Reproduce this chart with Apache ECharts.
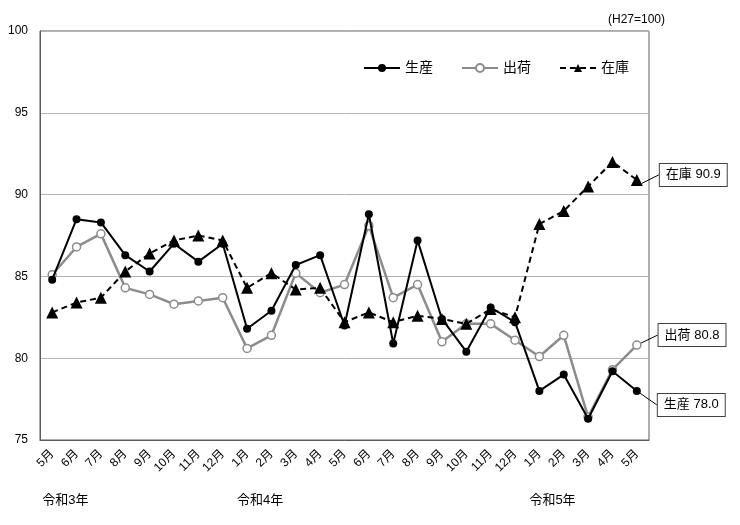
<!DOCTYPE html>
<html>
<head>
<meta charset="utf-8">
<script src="https://cdn.jsdelivr.net/npm/echarts@6/dist/echarts.min.js"></script>
<style>html,body{margin:0;padding:0;background:#fff;}#c{width:740px;height:525px;}</style>
</head>
<body>
<div id="c"></div>
<script>
var months = ['5月','6月','7月','8月','9月','10月','11月','12月','1月','2月','3月','4月','5月','6月','7月','8月','9月','10月','11月','12月','1月','2月','3月','4月','5月'];
var yearLabels = ['令和3年','','','','','','','','令和4年','','','','','','','','','','','','令和5年','','','',''];
var production = [84.8, 88.5, 88.3, 86.3, 85.3, 87.0, 85.9, 87.0, 81.8, 82.9, 85.7, 86.3, 82.0, 88.8, 80.9, 87.2, 82.4, 80.4, 83.1, 82.2, 78.0, 79.0, 76.3, 79.2, 78.0];
var shipments = [85.1, 86.8, 87.6, 84.3, 83.9, 83.3, 83.5, 83.7, 80.6, 81.4, 85.2, 84.0, 84.5, 88.1, 83.7, 84.5, 81.0, 82.1, 82.1, 81.1, 80.1, 81.4, 76.4, 79.3, 80.8];
var inventory = [82.8, 83.4, 83.7, 85.3, 86.4, 87.2, 87.5, 87.2, 84.3, 85.2, 84.2, 84.3, 82.2, 82.8, 82.2, 82.6, 82.4, 82.1, 83.0, 82.5, 88.2, 89.0, 90.5, 92.0, 90.9];
var yTicks = [75, 80, 85, 90, 95, 100];

var FONT = '"Liberation Sans", "Noto Sans CJK JP", sans-serif';

function withEndLabel(arr) {
  return arr.map(function (v, i) {
    if (i === arr.length - 1) {
      return { value: v, label: { show: true } };
    }
    return v;
  });
}
var endLabel = {
  show: false,
  position: 'right',
  distance: 5,
  formatter: function (p) { return p.seriesName + ' ' + p.value.toFixed(1); },
  fontFamily: FONT,
  fontSize: 13,
  color: '#000',
  backgroundColor: '#fff',
  borderColor: '#404040',
  borderWidth: 1,
  padding: [5, 6, 4, 6]
};
var guide = { show: true, lineStyle: { color: '#000', width: 1 } };

var chart = echarts.init(document.getElementById('c'));
chart.setOption({
  animation: false,
  backgroundColor: '#fff',
  textStyle: { fontFamily: FONT },
  grid: { left: 40, right: 91, top: 31, bottom: 85, show: true, borderColor: '#5a5a5a', borderWidth: 1, backgroundColor: 'transparent' },
  title: {
    text: '(H27=100)', right: 70, top: 9,
    textStyle: { fontSize: 12, fontWeight: 'normal', color: '#000', fontFamily: FONT }
  },
  legend: {
    left: 358, top: 56, itemWidth: 36, itemHeight: 10, itemGap: 28,
    textStyle: { fontSize: 14, color: '#000', fontFamily: FONT },
    data: ['生産', '出荷', '在庫']
  },
  xAxis: [{
    type: 'category', data: months, boundaryGap: true,
    axisLine: { lineStyle: { color: '#5a5a5a' } },
    axisTick: { show: false },
    axisLabel: { interval: 0, rotate: 45, fontSize: 12, color: '#000', margin: 12, fontFamily: FONT }
  }, {
    type: 'category', data: yearLabels, boundaryGap: true, position: 'bottom', offset: 54,
    axisLine: { show: false }, axisTick: { show: false },
    axisLabel: { interval: 0, align: 'left', fontSize: 13, color: '#000', margin: 0, padding: [0, 0, 0, -10], fontFamily: FONT }
  }],
  yAxis: {
    type: 'value', min: yTicks[0], max: yTicks[yTicks.length - 1], interval: 5,
    axisLine: { show: true, lineStyle: { color: '#5a5a5a' } },
    axisTick: { show: false },
    axisLabel: { fontSize: 12, color: '#000', margin: 12, fontFamily: FONT },
    splitLine: { lineStyle: { color: '#b4b4b4', width: 1 } }
  },
  series: [{
    name: '出荷', type: 'line', data: withEndLabel(shipments),
    symbol: 'circle', symbolSize: 8,
    itemStyle: { color: '#fff', borderColor: '#8c8c8c', borderWidth: 1.5 },
    lineStyle: { color: '#8c8c8c', width: 2.5 },
    label: endLabel, labelLine: guide,
    labelLayout: { dx: 12, dy: -10 },
    z: 2
  }, {
    name: '生産', type: 'line', data: withEndLabel(production),
    symbol: 'circle', symbolSize: 8,
    itemStyle: { color: '#000' },
    lineStyle: { color: '#000', width: 2 },
    label: endLabel, labelLine: guide,
    labelLayout: { dx: 12, dy: 14 },
    z: 3
  }, {
    name: '在庫', type: 'line', data: withEndLabel(inventory),
    symbol: 'triangle', symbolSize: 12,
    itemStyle: { color: '#000' },
    lineStyle: { color: '#000', width: 2, type: [6, 4] },
    label: endLabel, labelLine: guide,
    labelLayout: { dx: 12, dy: -5 },
    z: 4
  }]
});
</script>
</body>
</html>
